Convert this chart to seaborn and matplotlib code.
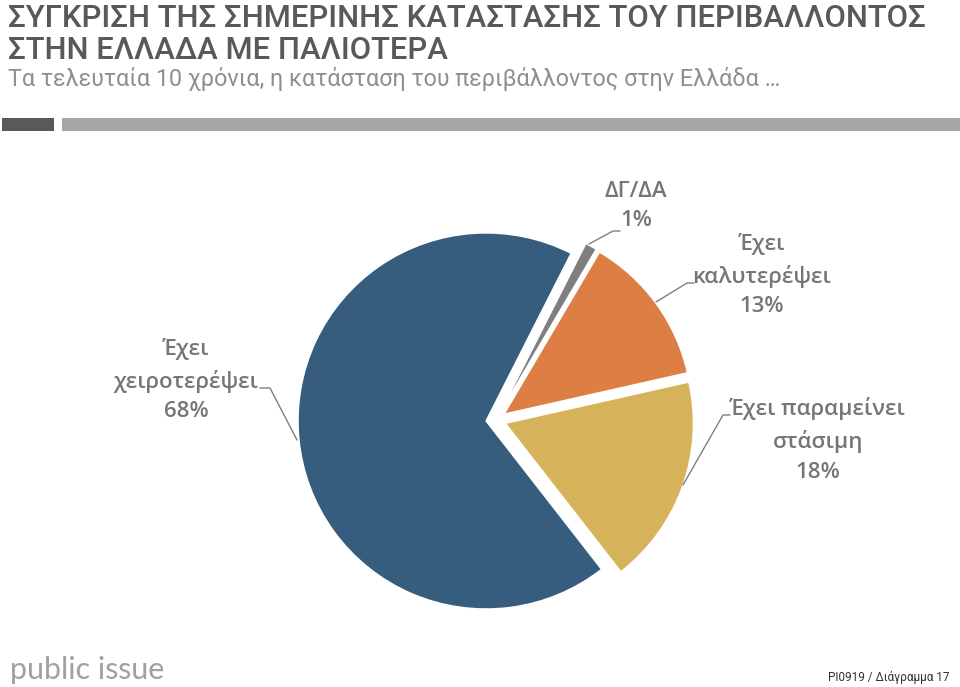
import matplotlib
matplotlib.use("Agg")
import matplotlib.pyplot as plt
import seaborn as sns
from matplotlib.patches import Rectangle

# ---- data ----
categories = ["Έχει\nκαλυτερέψει", "Έχει παραμείνει\nστάσιμη", "Έχει\nχειροτερέψει", "ΔΓ/ΔΑ"]
values = [13, 18, 68, 1]
pct_labels = ["13%", "18%", "68%", "1%"]
title_lines = ["ΣΥΓΚΡΙΣΗ ΤΗΣ ΣΗΜΕΡΙΝΗΣ ΚΑΤΑΣΤΑΣΗΣ ΤΟΥ ΠΕΡΙΒΑΛΛΟΝΤΟΣ", "ΣΤΗΝ ΕΛΛΑΔΑ ΜΕ ΠΑΛΙΟΤΕΡΑ"]
subtitle = "Τα τελευταία 10 χρόνια, η κατάσταση του περιβάλλοντος στην Ελλάδα …"
footer_right = "PI0919 / Διάγραμμα 17"
logo_text = "public issue"

# ---- styles ----
colors = ["#DD7F45", "#D6B25B", "#365C7E", "#7F7F7F"]

sns.set_theme(style="white")
plt.rcParams["font.family"] = ["Open Sans", "DejaVu Sans"]

W, H = 960, 687
fig = plt.figure(figsize=(W / 100, H / 100), dpi=100)
ax = fig.add_axes([0, 0, 1, 1])

def Y(y):
    return H - y

palette = sns.color_palette(colors)

cx, cy, r = 496, 420, 188
ax.pie(values, colors=palette, startangle=59.5, counterclock=False,
       center=(cx, Y(cy)), radius=r, explode=[10] * len(values),
       wedgeprops=dict(edgecolor="white", linewidth=1), frame=True)
ax.set_xlim(0, W)
ax.set_ylim(0, H)
ax.set_aspect("equal")
ax.axis("off")

label_color = "#767676"
lab_fs = 16
label_pos = [(762, 275), (818, 440), (186, 380), (636, 206)]
leaders = [
    [(656, 302), (687, 283), (694, 283)],
    [(683, 485), (723, 415), (730, 415)],
    [(297, 440), (270, 388), (260, 388)],
    [(589, 244), (613, 231), (620, 231)],
]
for cat, pct, (tx, ty), pts in zip(categories, pct_labels, label_pos, leaders):
    ax.text(tx, Y(ty), cat + "\n" + pct, ha="center", va="center", fontsize=lab_fs,
            color=label_color, linespacing=1.55, fontweight="semibold")
    ax.plot([p[0] for p in pts], [Y(p[1]) for p in pts], color="#7F7F7F", lw=1)

ax.add_patch(Rectangle((2, Y(131)), 52, 13, color="#595959", lw=0))
ax.add_patch(Rectangle((62, Y(131)), 898, 13, color="#A6A6A6", lw=0))

renderer = fig.canvas.get_renderer()

def fit_text(x, y, s, width, fs0, ha="left", va="top", **kw):
    t = fig.text(x / W, 1 - y / H, s, ha=ha, va=va, fontsize=fs0, **kw)
    ext = t.get_window_extent(renderer=renderer)
    t.set_fontsize(fs0 * width / ext.width)
    return t

title_font = ["Roboto", "DejaVu Sans"]
t1 = fit_text(8, 4, title_lines[0], 918, 24, color="#595959", family=title_font, fontweight="medium")
fs_title = t1.get_fontsize()
fig.text(8 / W, 1 - 36 / H, title_lines[1], ha="left", va="top", fontsize=fs_title,
         color="#595959", family=title_font, fontweight="medium")
fit_text(8, 67, subtitle, 772, 18, color="#8F8F8F", family=title_font)

# ---- footer ----
fit_text(10, 670, logo_text, 155, 20, va="center", color="#A0A0A0",
         family=["Lato", "DejaVu Sans"])
fit_text(950, 677, footer_right, 122, 9, ha="right", va="center", color="#333333",
         family=title_font)

fig.savefig("out.png", dpi=100)
